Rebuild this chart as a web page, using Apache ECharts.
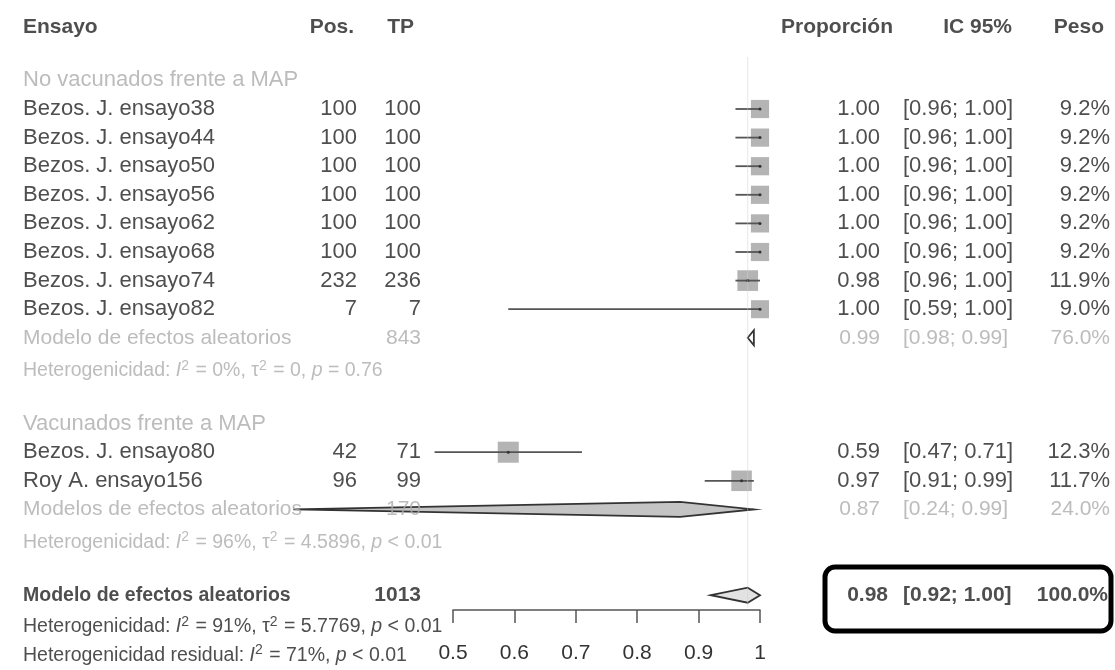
<!DOCTYPE html>
<html>
<head>
<meta charset="utf-8">
<script src="https://cdn.jsdelivr.net/npm/echarts/dist/echarts.min.js"></script>
<style>
  html, body { margin: 0; background: #fff; }
  #chart { width: 1115px; height: 670px; }
</style>
</head>
<body>
<div id="chart"></div>
<script>
// --- data ---
const groupNames = ["No vacunados frente a MAP", "Vacunados frente a MAP"];
const studyNames = [
  "Bezos. J. ensayo38", "Bezos. J. ensayo44", "Bezos. J. ensayo50", "Bezos. J. ensayo56",
  "Bezos. J. ensayo62", "Bezos. J. ensayo68", "Bezos. J. ensayo74", "Bezos. J. ensayo82",
  "Bezos. J. ensayo80", "Roy A. ensayo156"
];
const studyGroup = [0, 0, 0, 0, 0, 0, 0, 0, 1, 1];
const studyPos = [100, 100, 100, 100, 100, 100, 232, 7, 42, 96];
const studyTotal = [100, 100, 100, 100, 100, 100, 236, 7, 71, 99];
const studyProp = [1.00, 1.00, 1.00, 1.00, 1.00, 1.00, 0.98, 1.00, 0.59, 0.97];
const studyLow = [0.96, 0.96, 0.96, 0.96, 0.96, 0.96, 0.96, 0.59, 0.47, 0.91];
const studyHigh = [1.00, 1.00, 1.00, 1.00, 1.00, 1.00, 1.00, 1.00, 0.71, 0.99];
const studyWeight = [9.2, 9.2, 9.2, 9.2, 9.2, 9.2, 11.9, 9.0, 12.3, 11.7];

const groupModelNames = ["Modelo de efectos aleatorios", "Modelos de efectos aleatorios"];
const groupTotal = [843, 170];
const groupProp = [0.99, 0.87];
const groupLow = [0.98, 0.24];
const groupHigh = [0.99, 0.99];
const groupWeight = [76.0, 24.0];
const groupI2 = ["0%", "96%"];
const groupTau2 = ["0", "4.5896"];
const groupP = ["= 0.76", "< 0.01"];

const overallTotal = 1013;
const overallProp = 0.98;
const overallLow = 0.92;
const overallHigh = 1.00;
const overallWeight = 100.0;
const overallI2 = "91%";
const overallTau2 = "5.7769";
const overallP = "< 0.01";
const residualI2 = "71%";
const residualP = "< 0.01";

const axisTicks = [0.5, 0.6, 0.7, 0.8, 0.9, 1];

// --- layout ---
const ROW_TOP = 23.2;
const ROW_H = 28.6;
const N_ROWS = 22;
const FONT = "'Liberation Sans', Arial, sans-serif";
const BLACK = "#222";
const GREY = "#ababab";
const col = { name: 23, pos: 357, tp: 421, prop: 880, ci: 903, weight: 1110 };

const texts = [];
const studyMarks = [];
const diamonds = [];

function txt(x, row, text, opts) {
  texts.push({
    value: [x, row],
    text: text,
    label: Object.assign({ align: "left", color: BLACK, fontSize: 22, fontWeight: "normal" }, opts || {})
  });
}
const f2 = (v) => v.toFixed(2);
const ci = (lo, hi) => "[" + f2(lo) + "; " + f2(hi) + "]";
const pct = (w) => w.toFixed(1) + "%";
function het(label, i2, tau2, p) {
  let s = "{n|" + label + ": }{i|I}{s|2}{n| = " + i2 + ", }";
  if (tau2 !== null) s += "{n|τ}{s|2}{n| = " + tau2 + ", }";
  return s + "{i|p}{n| " + p + "}";
}

// header
const hdr = { fontWeight: "bold", fontSize: 21 };
txt(col.name, 0.15, "Ensayo", hdr);
txt(354, 0.15, "Pos.", Object.assign({ align: "right" }, hdr));
txt(414, 0.15, "TP", Object.assign({ align: "right" }, hdr));
txt(893, 0.15, "Proporción", Object.assign({ align: "right" }, hdr));
txt(1012, 0.15, "IC 95%", Object.assign({ align: "right" }, hdr));
txt(1104, 0.15, "Peso", Object.assign({ align: "right" }, hdr));

let row = 2;
groupNames.forEach((g, gi) => {
  txt(col.name, row, g, { color: GREY });
  row++;
  studyNames.forEach((name, i) => {
    if (studyGroup[i] !== gi) return;
    txt(col.name, row, name);
    txt(col.pos, row, String(studyPos[i]), { align: "right" });
    txt(col.tp, row, String(studyTotal[i]), { align: "right" });
    txt(col.prop, row, f2(studyProp[i]), { align: "right" });
    txt(col.ci, row, ci(studyLow[i], studyHigh[i]));
    txt(col.weight, row, pct(studyWeight[i]), { align: "right" });
    studyMarks.push([studyProp[i], studyLow[i], studyHigh[i], row, 6 * Math.sqrt(studyWeight[i])]);
    row++;
  });
  const m = { color: GREY, fontSize: 21 };
  txt(col.name, row, groupModelNames[gi], m);
  txt(col.tp, row, String(groupTotal[gi]), Object.assign({ align: "right" }, m));
  txt(col.prop, row, f2(groupProp[gi]), Object.assign({ align: "right" }, m));
  txt(col.ci, row, ci(groupLow[gi], groupHigh[gi]), m);
  txt(col.weight, row, pct(groupWeight[gi]), Object.assign({ align: "right" }, m));
  diamonds.push([groupProp[gi], groupLow[gi], groupHigh[gi], row, gi === 0 ? "#ffffff" : "#c4c4c4"]);
  row++;
  txt(col.name, row + 0.15, het("Heterogenicidad", groupI2[gi], groupTau2[gi], groupP[gi]), { color: GREY, fontSize: 19.5 });
  row += 2;
});

// overall
const ob = { fontWeight: "bold", fontSize: 19.5 };
const obr = { fontWeight: "bold", fontSize: 21 };
txt(col.name, row, "Modelo de efectos aleatorios", ob);
txt(col.tp, row, String(overallTotal), Object.assign({ align: "right" }, obr));
txt(888, row, f2(overallProp), Object.assign({ align: "right" }, obr));
txt(col.ci, row, ci(overallLow, overallHigh), obr);
txt(1108, row, pct(overallWeight), Object.assign({ align: "right" }, obr));
diamonds.push([overallProp, overallLow, overallHigh, row, "#e2e2e2"]);
const overallRow = row;
txt(col.name, row + 1.1, het("Heterogenicidad", overallI2, overallTau2, overallP), { fontSize: 19.5 });
txt(col.name, row + 2.1, het("Heterogenicidad residual", residualI2, null, residualP), { fontSize: 19.5 });

const yAxisBase = { type: "value", min: 0, max: N_ROWS, inverse: true, show: false };

const chart = echarts.init(document.getElementById("chart"));
chart.setOption({
  animation: false,
  backgroundColor: "#fff",
  grid: [
    { left: 146, width: 614, top: ROW_TOP, height: ROW_H * N_ROWS },
    { left: 0, width: 1115, top: ROW_TOP, height: ROW_H * N_ROWS },
    { left: 453, width: 307, top: 600, height: 10 }
  ],
  xAxis: [
    { gridIndex: 0, type: "value", min: 0, max: 1, show: false },
    { gridIndex: 1, type: "value", min: 0, max: 1115, show: false },
    {
      gridIndex: 2, type: "value", min: 0.5, max: 1, interval: 0.1, position: "bottom",
      axisLine: { show: true, lineStyle: { color: "#555", width: 1.5 } },
      axisTick: { show: true, length: 13, inside: false, lineStyle: { color: "#555", width: 1.5 } },
      axisLabel: { color: "#333", fontSize: 21, fontFamily: FONT, margin: 43, verticalAlign: "middle" },
      splitLine: { show: false }
    }
  ],
  yAxis: [
    Object.assign({ gridIndex: 0 }, yAxisBase),
    Object.assign({ gridIndex: 1 }, yAxisBase),
    { gridIndex: 2, type: "value", min: 0, max: 1, show: false }
  ],
  series: [
    {
      type: "line",
      xAxisIndex: 0, yAxisIndex: 0,
      data: [[overallProp, 1.2], [overallProp, overallRow + 0.45]],
      symbol: "none",
      lineStyle: { color: "#d0d0d0", width: 1, type: "dotted" },
      silent: true
    },
    {
      type: "custom",
      xAxisIndex: 0, yAxisIndex: 0,
      data: studyMarks,
      renderItem: (params, api) => {
        const y = api.value(3);
        const c = api.coord([api.value(0), y]);
        const l = api.coord([api.value(1), y]);
        const h = api.coord([api.value(2), y]);
        const s = api.value(4);
        return {
          type: "group",
          children: [
            { type: "rect", shape: { x: c[0] - s / 2, y: c[1] - s / 2, width: s, height: s }, style: { fill: "#b4b4b4" } },
            { type: "line", shape: { x1: l[0], y1: c[1], x2: h[0], y2: c[1] }, style: { stroke: "#555", lineWidth: 1.8 } },
            { type: "circle", shape: { cx: c[0], cy: c[1], r: 1.5 }, style: { fill: "#333" } }
          ]
        };
      },
      silent: true
    },
    {
      type: "custom",
      xAxisIndex: 0, yAxisIndex: 0,
      data: diamonds,
      renderItem: (params, api) => {
        const y = api.value(3);
        const c = api.coord([api.value(0), y]);
        const l = api.coord([api.value(1), y]);
        const h = api.coord([api.value(2), y]);
        const half = 7.5;
        return {
          type: "polygon",
          shape: { points: [[l[0], c[1]], [c[0], c[1] - half], [h[0], c[1]], [c[0], c[1] + half]] },
          style: { fill: diamonds[params.dataIndex][4], stroke: "#333", lineWidth: 1.8 }
        };
      },
      silent: true
    },
    {
      type: "scatter",
      xAxisIndex: 1, yAxisIndex: 1,
      symbolSize: 0,
      clip: false,
      data: texts,
      silent: true,
      label: {
        show: true,
        position: [0, 0],
        verticalAlign: "middle",
        fontFamily: FONT,
        formatter: (p) => p.data.text,
        rich: {
          n: {},
          i: { fontStyle: "italic" },
          s: { fontSize: 14, padding: [0, 1, 10, 0] }
        }
      }
    }
  ],
  graphic: [
    {
      type: "rect",
      shape: { x: 825, y: 567, width: 286, height: 64, r: 10 },
      style: { fill: "none", stroke: "#000", lineWidth: 5 },
      z: 100
    }
  ]
});
</script>
</body>
</html>
